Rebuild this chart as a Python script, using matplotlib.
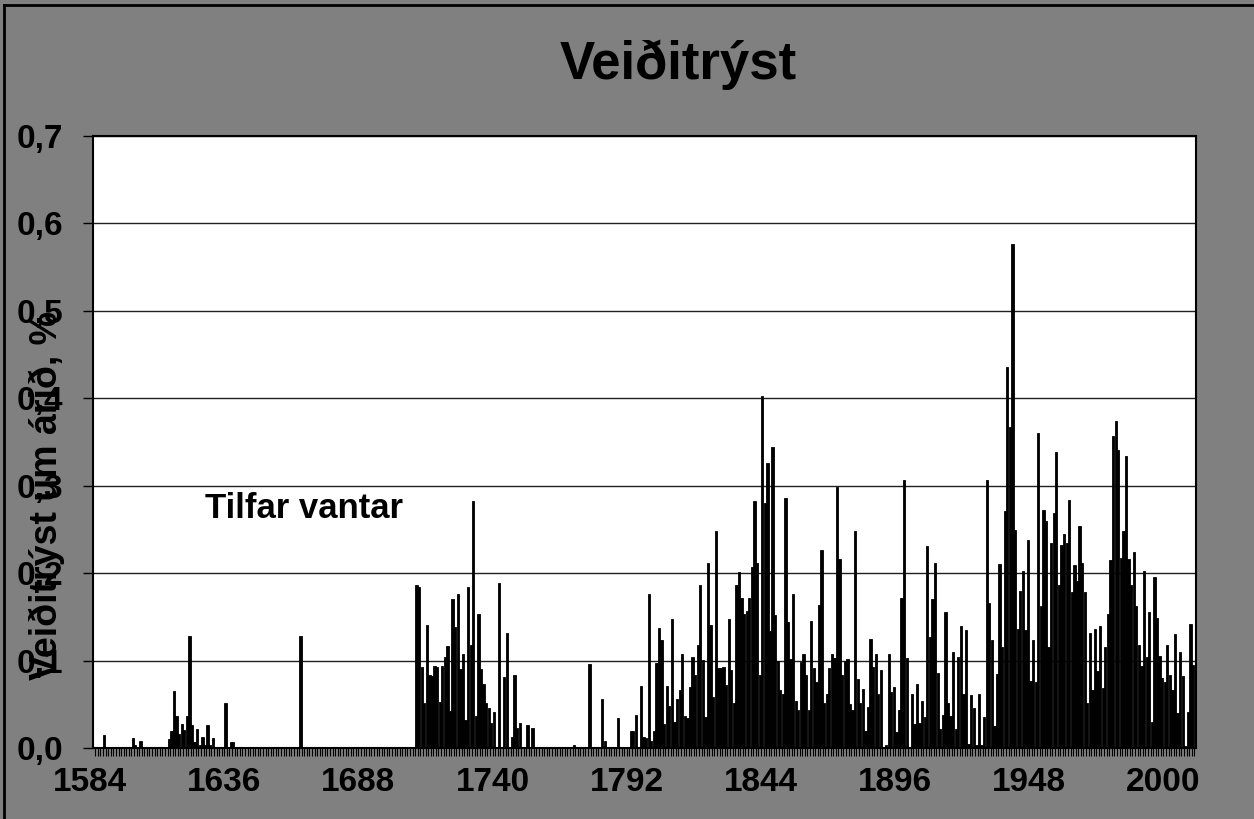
import matplotlib
matplotlib.use("Agg")
import matplotlib.pyplot as plt
from matplotlib.lines import Line2D
from matplotlib.ticker import FixedLocator, FuncFormatter
from matplotlib.transforms import ScaledTranslation
import numpy as np

plt.rcParams['font.family'] = ['Liberation Sans', 'DejaVu Sans']

# ---------------- data ----------------
title = 'Veiðitrýst'
y_title = 'Veiðitrýst um árið, %'
note = 'Tilfar vantar'

label_years = [1584, 1636, 1688, 1740, 1792, 1844, 1896, 1948, 2000]
y_ticks = [0.0, 0.1, 0.2, 0.3, 0.4, 0.5, 0.6, 0.7]

# sparse early records
early_years = [1588, 1599, 1600, 1602,
               1613, 1614, 1615, 1616, 1617, 1618, 1619, 1620, 1621, 1622,
               1623, 1624, 1625, 1626, 1627, 1628, 1629, 1630,
               1635, 1637, 1638, 1664]
early_vals = [0.015, 0.011, 0.003, 0.008,
              0.010, 0.020, 0.065, 0.037, 0.016, 0.027, 0.021, 0.037, 0.128, 0.026,
              0.007, 0.022, 0.003, 0.013, 0.003, 0.026, 0.003, 0.011,
              0.051, 0.007, 0.007, 0.128]

# continuous series, one value per year from main_start
main_start = 1709
main_vals = [
    # 1709-1739
    0.187, 0.184, 0.093, 0.051, 0.141, 0.083, 0.082, 0.094, 0.093, 0.053, 0.094,
    0.104, 0.117, 0.042, 0.170, 0.138, 0.176, 0.090, 0.108, 0.032, 0.184, 0.118,
    0.282, 0.037, 0.153, 0.090, 0.073, 0.051, 0.046, 0.029, 0.041,
    # 1740-1754
    0.000, 0.189, 0.000, 0.081, 0.131, 0.000, 0.013, 0.083, 0.023, 0.029, 0.000,
    0.000, 0.026, 0.000, 0.023,
    # 1755-1791
    0.000, 0.000, 0.000, 0.000, 0.000, 0.000, 0.000, 0.000, 0.000, 0.000, 0.000,
    0.000, 0.000, 0.000, 0.000, 0.003, 0.000, 0.000, 0.000, 0.000, 0.000, 0.096,
    0.000, 0.000, 0.000, 0.000, 0.056, 0.008, 0.000, 0.000, 0.000, 0.000, 0.034,
    0.000, 0.000, 0.000, 0.000,
    # 1792-1811
    0.020, 0.020, 0.038, 0.000, 0.071, 0.013, 0.012, 0.176, 0.008, 0.020,
    0.097, 0.137, 0.123, 0.027, 0.071, 0.048, 0.147, 0.030, 0.056, 0.066,
    # 1812-1861
    0.107, 0.037, 0.034, 0.070, 0.104, 0.084, 0.118, 0.186, 0.101, 0.035,
    0.212, 0.141, 0.058, 0.248, 0.092, 0.092, 0.093, 0.072, 0.147, 0.089,
    0.051, 0.187, 0.201, 0.172, 0.153, 0.157, 0.171, 0.207, 0.282, 0.212,
    0.083, 0.403, 0.280, 0.326, 0.134, 0.344, 0.152, 0.099, 0.066, 0.062,
    0.286, 0.144, 0.102, 0.176, 0.054, 0.043, 0.098, 0.108, 0.083, 0.043,
    # 1862-1911
    0.145, 0.091, 0.075, 0.163, 0.226, 0.052, 0.062, 0.092, 0.108, 0.103,
    0.298, 0.216, 0.084, 0.100, 0.102, 0.050, 0.043, 0.248, 0.079, 0.051,
    0.067, 0.019, 0.047, 0.125, 0.093, 0.107, 0.062, 0.089, 0.000, 0.004,
    0.107, 0.064, 0.070, 0.018, 0.044, 0.172, 0.306, 0.103, 0.000, 0.062,
    0.028, 0.073, 0.029, 0.054, 0.035, 0.231, 0.127, 0.170, 0.212, 0.086,
    # 1912-1961
    0.022, 0.038, 0.155, 0.052, 0.037, 0.110, 0.022, 0.104, 0.139, 0.062,
    0.135, 0.005, 0.061, 0.046, 0.004, 0.062, 0.004, 0.035, 0.307, 0.166,
    0.124, 0.025, 0.085, 0.211, 0.115, 0.271, 0.436, 0.367, 0.577, 0.249,
    0.136, 0.180, 0.202, 0.135, 0.238, 0.077, 0.124, 0.075, 0.360, 0.162,
    0.272, 0.260, 0.116, 0.235, 0.269, 0.338, 0.186, 0.232, 0.245, 0.235,
    # 1962-2010
    0.284, 0.178, 0.209, 0.191, 0.254, 0.212, 0.179, 0.051, 0.131, 0.066,
    0.136, 0.088, 0.140, 0.069, 0.116, 0.153, 0.215, 0.357, 0.374, 0.341,
    0.217, 0.248, 0.334, 0.216, 0.187, 0.224, 0.162, 0.118, 0.094, 0.202,
    0.104, 0.155, 0.030, 0.196, 0.149, 0.105, 0.080, 0.076, 0.118, 0.084,
    0.066, 0.130, 0.040, 0.110, 0.082, 0.002, 0.041, 0.142, 0.095,
]
first_year = 1584
main_years = np.arange(main_start, main_start + len(main_vals))
last_year = int(main_years[-1])

# ---------------- figure ----------------
W, H = 1254, 819
fig = plt.figure(figsize=(W / 100, H / 100), dpi=100, facecolor='#808080')
ax = fig.add_axes([93 / W, 1 - 748 / H, (1196 - 93) / W, (748 - 136) / H])
ax.set_facecolor('white')

bar_kw = dict(width=0.88, color='black', edgecolor='black', linewidth=0.6, zorder=3)
ax.bar(early_years, early_vals, **bar_kw)
ax.bar(main_years, main_vals, **bar_kw)

ax.set_ylim(0, 0.7)
ax.set_xlim(first_year - 0.39, last_year + 1.13)

# grid
ax.set_axisbelow(True)
ax.yaxis.set_major_locator(FixedLocator(y_ticks))
ax.yaxis.grid(True, color='#202020', linewidth=1.0)
ax.xaxis.grid(False)

ax.yaxis.set_major_formatter(FuncFormatter(lambda v, p: f"{v:.1f}".replace('.', ',')))
ax.tick_params(axis='y', which='major', direction='out', length=7.5, width=1.0,
               color='black', pad=14, labelsize=24, labelcolor='black')
for t in ax.get_yticklabels():
    t.set_fontweight('bold')

ax.xaxis.set_major_locator(FixedLocator(label_years))
ax.xaxis.set_major_formatter(FuncFormatter(lambda v, p: f"{int(round(v))}"))
ax.xaxis.set_minor_locator(FixedLocator(np.arange(first_year - 0.5, last_year + 1.0, 1.0)))
ax.tick_params(axis='x', which='minor', direction='out', length=5.5, width=0.8, color='black')
ax.tick_params(axis='x', which='major', direction='out', length=0, pad=14,
               labelsize=24, labelcolor='black')
shift = ScaledTranslation(-4 / 100, 0, fig.dpi_scale_trans)
for t in ax.get_xticklabels():
    t.set_fontweight('bold')
    t.set_transform(t.get_transform() + shift)

for s in ax.spines.values():
    s.set_color('black')
    s.set_linewidth(1.5)

# texts
fig.text(678 / W, 1 - 79 / H, title, ha='center', va='baseline',
         fontsize=38, fontweight='bold', color='black')
fig.text(47 / W, 1 - 495 / H, y_title, rotation=90, ha='center', va='center',
         fontsize=27, fontweight='bold', color='black')
fig.text(205 / W, 1 - 518 / H, note, ha='left', va='baseline',
         fontsize=25, fontweight='bold', color='black')

# outer border of chart area (left and top edges visible)
fig.add_artist(Line2D([4 / W, 4 / W], [0, 1 - 5 / H], transform=fig.transFigure,
                      color='black', linewidth=2))
fig.add_artist(Line2D([4 / W, 1], [1 - 5 / H, 1 - 5 / H], transform=fig.transFigure,
                      color='black', linewidth=2))

fig.savefig('out.png', dpi=100, facecolor=fig.get_facecolor())
